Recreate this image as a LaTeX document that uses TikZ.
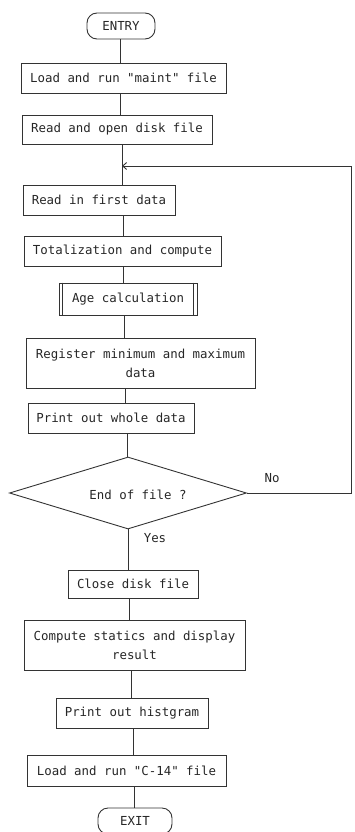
\documentclass[tikz,border=0pt]{standalone}
\usepackage{fontspec}
\setmonofont{DejaVu Sans Mono}
\usetikzlibrary{shapes.geometric,arrows.meta}
\begin{document}
\begin{tikzpicture}[x=1pt,y=1pt,
  every node/.style={font=\ttfamily\fontsize{12.4}{19}\selectfont, text=black!85},
  proc/.style={draw=black!80, line width=0.9pt, rectangle, inner sep=0pt, align=center},
  term/.style={draw=black!80, line width=0.9pt, rounded corners=10pt, inner sep=0pt},
  decision/.style={draw=black!80, line width=0.9pt, diamond, inner sep=0pt,
    minimum width=237pt, minimum height=72pt},
  flow/.style={draw=black!80, line width=0.9pt},
  tip/.style={-{Straight Barb[length=4pt,width=7pt]}},
]
\useasboundingbox (0,0) rectangle (354,-832);

% terminals
\node[term, minimum width=68pt, minimum height=26pt] (entry) at (121,-26) {ENTRY};
\node[term, minimum width=74pt, minimum height=26pt] (exit) at (135,-821) {EXIT};

% process boxes
\node[proc, minimum width=205pt, minimum height=30pt] (load) at (123.5,-78) {Load and run "maint" file};
\node[proc, minimum width=190pt, minimum height=29pt] (readopen) at (117,-129.5) {Read and open disk file};
\node[proc, minimum width=152pt, minimum height=30pt] (readfirst) at (99,-200) {Read in first data};
\node[proc, minimum width=197pt, minimum height=30pt] (total) at (122.5,-251) {Totalization and compute};
\node[proc, minimum width=138pt, minimum height=32pt] (age) at (128,-299) {Age calculation};
\draw[flow] ([xshift=4pt]age.north west) -- ([xshift=4pt]age.south west);
\draw[flow] ([xshift=-4pt]age.north east) -- ([xshift=-4pt]age.south east);
\node[proc, minimum width=229pt, minimum height=50pt] (register) at (140.5,-363) {Register minimum and maximum\\data};
\node[proc, minimum width=166pt, minimum height=30pt] (printwhole) at (111,-418) {Print out whole data};

% decision
\node[decision] (dec) at (128,-493) {};
\node (dectext) at (138,-495) {End of file ?};
\node (no) at (272,-478) {No};
\node (yes) at (155,-538) {Yes};

\node[proc, minimum width=130pt, minimum height=28pt] (close) at (133,-584) {Close disk file};
\node[proc, minimum width=221pt, minimum height=50pt] (compute) at (134.5,-645) {Compute statics and display\\result};
\node[proc, minimum width=152pt, minimum height=30pt] (printhist) at (132,-713) {Print out histgram};
\node[proc, minimum width=199pt, minimum height=31pt] (loadc) at (126.5,-770.5) {Load and run "C-14" file};

% main trunk
\foreach \a/\b/\x in {entry/load/120, load/readopen/120, readopen/readfirst/122,
  readfirst/total/123, total/age/123, age/register/124, register/printwhole/125,
  printwhole/dec/127, dec/close/128, close/compute/129, compute/printhist/131,
  printhist/loadc/133, loadc/exit/134}{
  \coordinate (t) at (\x,0);
  \draw[flow] (\a.south -| t) -- (\b.north -| t);
}

% loop back for the next record
\coordinate (join) at (122,-166);
\coordinate (rt) at (351,-490);
\draw[flow, tip] (dec.east) -- (dec.east -| rt) -- (rt |- join) -- (join);
\end{tikzpicture}
\end{document}
